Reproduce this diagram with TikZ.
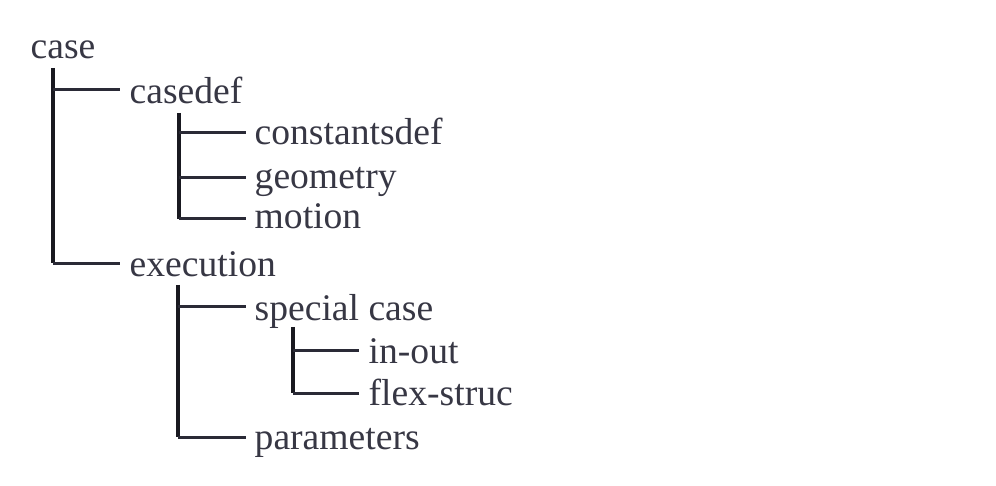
\documentclass[tikz,border=0pt]{standalone}
\usepackage{fontspec}
\setmainfont{Liberation Serif}
\definecolor{txt}{RGB}{55,55,68}
\definecolor{ln}{RGB}{42,42,54}
\begin{document}
\begin{tikzpicture}[x=1pt,y=-1pt,
  lbl/.style={anchor=base west,inner sep=0pt,text=txt,font=\fontsize{37.6}{44}\selectfont},
  conn/.style={draw=ln,line width=3pt,line cap=butt},
  trunk/.style={draw=ln!60!black,line width=3.5pt}]
\useasboundingbox (0,0) rectangle (996,486);
% nodes
\node[lbl] (case) at (30.5,59) {case};
\node[lbl] (casedef) at (129.5,104) {casedef};
\node[lbl] (constantsdef) at (254.5,145) {constantsdef};
\node[lbl] (geometry) at (254.5,189) {geometry};
\node[lbl] (motion) at (254.5,229) {motion};
\node[lbl] (execution) at (129.5,277) {execution};
\node[lbl] (special) at (254.5,321) {special case};
\node[lbl] (inout) at (368.5,363) {in-out};
\node[lbl] (flex) at (368.5,405) {flex-struc};
\node[lbl] (parameters) at (254.5,449) {parameters};
% connector coordinates
\coordinate (t1) at (53,68);
\coordinate (j-casedef) at (120,90);
\coordinate (j-execution) at (120,263.5);
\coordinate (t2) at (179,113);
\coordinate (j-constantsdef) at (246,133);
\coordinate (j-geometry) at (246,178);
\coordinate (j-motion) at (246,219);
\coordinate (t3) at (178,285);
\coordinate (j-special) at (246,307);
\coordinate (j-parameters) at (246,437);
\coordinate (t4) at (293,327);
\coordinate (j-inout) at (359,350);
\coordinate (j-flex) at (359,393);
% trunks
\draw[trunk] (t1) -- (t1 |- j-execution);
\draw[trunk] (t2) -- (t2 |- j-motion);
\draw[trunk] (t3) -- (t3 |- j-parameters);
\draw[trunk] (t4) -- (t4 |- j-flex);
% branches
\draw[conn] (t1 |- j-casedef) -- (j-casedef);
\draw[conn] (t1 |- j-execution) -- (j-execution);
\draw[conn] (t2 |- j-constantsdef) -- (j-constantsdef);
\draw[conn] (t2 |- j-geometry) -- (j-geometry);
\draw[conn] (t2 |- j-motion) -- (j-motion);
\draw[conn] (t3 |- j-special) -- (j-special);
\draw[conn] (t3 |- j-parameters) -- (j-parameters);
\draw[conn] (t4 |- j-inout) -- (j-inout);
\draw[conn] (t4 |- j-flex) -- (j-flex);
\end{tikzpicture}
\end{document}
